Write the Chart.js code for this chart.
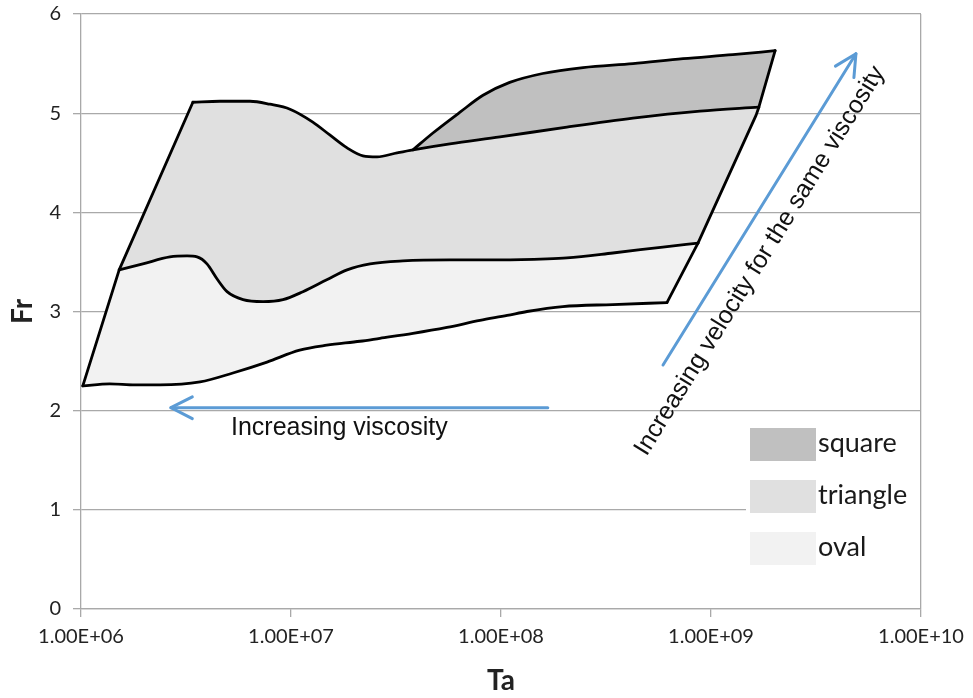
<!DOCTYPE html>
<html><head><meta charset="utf-8">
<script src="https://cdn.jsdelivr.net/npm/chart.js@4.4.1/dist/chart.umd.min.js"></script>
<style>html,body{margin:0;padding:0;background:#fff;}#wrap{width:973px;height:698px;}</style>
</head><body><div id="wrap"><canvas id="c" width="973" height="698"></canvas></div>
<script>
// ---- data (Ta, Fr) ----
const xTickValues = [1e6, 1e7, 1e8, 1e9, 1e10];
const xTickLabels = ['1.00E+06', '1.00E+07', '1.00E+08', '1.00E+09', '1.00E+10'];
const yTickValues = [0, 1, 2, 3, 4, 5, 6];
const regionNames = ['square', 'triangle', 'oval'];
const regionColors = ['#c0c0c0', '#e0e0e0', '#f2f2f2'];

const ovalBottom = [[1.02e6,2.25],[1.37e6,2.27],[1.81e6,2.26],[2.38e6,2.26],[3.69e6,2.29],[5.29e6,2.38],[7.69e6,2.49],[1.10e7,2.61],[1.48e7,2.66],[2.13e7,2.70],[2.65e7,2.73],[3.81e7,2.78],[5.53e7,2.84],[7.94e7,2.91],[1.07e8,2.96],[1.33e8,3.00],[1.97e8,3.05],[3.41e8,3.07],[6.17e8,3.09]];
const ovalTop = [[1.52e6,3.42],[1.97e6,3.48],[2.65e6,3.55],[3.20e6,3.56],[3.57e6,3.55],[3.98e6,3.48],[4.44e6,3.33],[4.96e6,3.20],[5.91e6,3.12],[7.36e6,3.10],[9.16e6,3.12],[1.14e7,3.20],[1.48e7,3.32],[1.85e7,3.42],[2.38e7,3.48],[3.41e7,3.51],[5.71e7,3.52],[9.89e7,3.52],[1.66e8,3.53],[2.06e8,3.54],[3.41e8,3.59],[5.90e8,3.65],[8.67e8,3.69]];
const triangleTop = [[3.41e6,5.11],[4.59e6,5.12],[6.38e6,5.12],[7.94e6,5.09],[9.89e6,5.04],[1.27e7,4.91],[1.53e7,4.78],[1.85e7,4.65],[2.20e7,4.57],[2.57e7,4.56],[3.20e7,4.60],[3.81e7,4.63],[5.71e7,4.69],[9.89e7,4.76],[2.06e8,4.86],[4.25e8,4.95],[8.87e8,5.02],[1.69e9,5.06]];
const triangleRight = [[8.67e8,3.69],[1.64e9,4.98],[1.69e9,5.06]];
const squareTop = [[3.81e7,4.63],[4.74e7,4.80],[6.38e7,5.01],[8.21e7,5.18],[1.10e8,5.31],[1.58e8,5.40],[2.46e8,5.46],[4.25e8,5.50],[7.36e8,5.55],[1.27e9,5.59],[2.02e9,5.63]];
const squareRight = [[2.02e9,5.63],[1.69e9,5.06]];
const ovalLeft = [[1.02e6,2.25],[1.52e6,3.42]];
const ovalRight = [[6.17e8,3.09],[8.67e8,3.69]];
const triangleLeft = [[1.52e6,3.42],[3.41e6,5.11]];

// annotations (data coordinates)
const viscosityArrow = [[1.67e8,2.03],[2.68e6,2.03]];
const viscosityLabel = {text:'Increasing viscosity', at:[5.18e6,1.755]};
const velocityArrow = [[5.91e8,2.46],[4.90e9,5.60]];
const velocityLabel = {text:'Increasing velocity for the same viscosity', at:[1.71e9,3.51]};

// ---- build polygons from the boundary arrays ----
const pts = a => a.map(p => ({x:p[0], y:p[1]}));
const rev = a => a.slice().reverse();
const sqStart = triangleTop.findIndex(p => p[0] === squareTop[0][0]);
const polyOval = pts(ovalBottom.concat(rev(ovalTop)));
const polyTriangle = pts(ovalTop.concat(triangleRight.slice(1), rev(triangleTop)));
const polySquare = pts(squareTop.concat(rev(triangleTop.slice(sqStart))));

const fillDs = (label, data, color) => ({label, data, showLine:true, fill:'shape', tension:0,
  backgroundColor:color, borderColor:'transparent', borderWidth:1, pointRadius:0, order:5});
const lineDs = (data, curved) => ({label:'', data:pts(data), showLine:true, fill:false,
  tension:0, cubicInterpolationMode: curved ? 'monotone' : 'default',
  borderColor:'#000', borderWidth:2.8, borderCapStyle:'round', borderJoinStyle:'round',
  pointRadius:0, order:1});

const GRID = '#a9a9a9';
const annot = {
  id:'annot',
  afterDatasetsDraw(chart){
    const {ctx, scales:{x, y}, chartArea:ca} = chart;
    const P = p => [x.getPixelForValue(p[0]), y.getPixelForValue(p[1])];
    const arrow = (a) => {
      const [x0,y0] = P(a[0]), [x1,y1] = P(a[1]);
      const ang = Math.atan2(y1-y0, x1-x0), L = 24, w = 0.47;
      ctx.save();
      ctx.strokeStyle = '#5b9bd5'; ctx.lineWidth = 3; ctx.lineCap = 'round'; ctx.lineJoin='round';
      ctx.beginPath(); ctx.moveTo(x0,y0); ctx.lineTo(x1,y1); ctx.stroke();
      ctx.beginPath();
      ctx.moveTo(x1 - L*Math.cos(ang-w), y1 - L*Math.sin(ang-w));
      ctx.lineTo(x1,y1);
      ctx.lineTo(x1 - L*Math.cos(ang+w), y1 - L*Math.sin(ang+w));
      ctx.stroke();
      ctx.restore();
      return ang;
    };
    arrow(viscosityArrow);
    const ang = arrow(velocityArrow);
    ctx.save();
    ctx.fillStyle = '#111';
    ctx.font = '25px "Liberation Sans", Arial, sans-serif';
    const [tx,ty] = P(viscosityLabel.at);
    ctx.textAlign = 'left'; ctx.textBaseline = 'alphabetic';
    ctx.fillText(viscosityLabel.text, tx, ty);
    const [vx,vy] = P(velocityLabel.at);
    ctx.translate(vx,vy); ctx.rotate(ang);
    ctx.textAlign = 'center'; ctx.textBaseline = 'middle';
    ctx.fillText(velocityLabel.text, 0, 0);
    ctx.restore();
    // legend
    ctx.save();
    ctx.fillStyle = '#fff';
    ctx.fillRect(ca.right - 175, ca.bottom - 189, 174, 150);
    ctx.font = '27px Lato, "Open Sans", sans-serif';
    ctx.textBaseline = 'middle'; ctx.textAlign = 'left';
    regionNames.forEach((n,i) => {
      const top = ca.bottom - 181 + i*52;
      ctx.fillStyle = regionColors[i];
      ctx.fillRect(ca.right - 171, top, 66, 33);
      ctx.fillStyle = '#1a1a1a';
      ctx.fillText(n, ca.right - 103, top + 15);
    });
    ctx.restore();
  }
};

new Chart(document.getElementById('c'), {
  type:'scatter',
  data:{datasets:[
    lineDs(ovalBottom,true), lineDs(ovalTop,true), lineDs(triangleTop,true), lineDs(squareTop,true),
    lineDs(ovalLeft,false), lineDs(ovalRight,false), lineDs(triangleLeft,false), lineDs(triangleRight,false), lineDs(squareRight,false),
    fillDs(regionNames[0], polySquare, regionColors[0]),
    fillDs(regionNames[1], polyTriangle, regionColors[1]),
    fillDs(regionNames[2], polyOval, regionColors[2])
  ]},
  options:{
    responsive:false, animation:false, devicePixelRatio:1,
    layout:{padding:{left:0, right:52, top:14, bottom:0}},
    plugins:{legend:{display:false}, tooltip:{enabled:false}},
    scales:{
      x:{type:'logarithmic', min:1e6, max:1e10,
        afterBuildTicks: s => { s.ticks = xTickValues.map(v => ({value:v, major:true})); },
        afterFit: s => { s.height = 89; s.paddingLeft = 0; s.paddingRight = 0; },
        ticks:{autoSkip:false, maxRotation:0, padding:8, color:'#222',
          font:{family:'Lato', size:20}, callback:(v,i) => xTickLabels[i]},
        grid:{drawOnChartArea:true, tickLength:8,
          color: c => (c.tick && c.tick.value === xTickValues[xTickValues.length-1]) ? GRID : 'transparent',
          tickColor:GRID, lineWidth:1.3},
        border:{display:true, color:GRID, width:1.3},
        title:{display:true, text:'Ta', color:'#222', font:{family:'Lato', size:28, weight:'bold'}, padding:{top:0, bottom:0}}
      },
      y:{min:0, max:6,
        afterBuildTicks: s => { s.ticks = yTickValues.map(v => ({value:v})); },
        afterFit: s => { s.width = 81; s.paddingTop = 0; s.paddingBottom = 0; },
        ticks:{padding:12, color:'#222', font:{family:'Lato', size:20}},
        grid:{color:GRID, tickLength:8, lineWidth:1.3},
        border:{display:true, color:GRID, width:1.3},
        title:{display:true, text:'Fr', color:'#222', font:{family:'Lato', size:28, weight:'bold'}, padding:{top:6, bottom:0}}
      }
    }
  },
  plugins:[annot]
});
</script></body></html>
